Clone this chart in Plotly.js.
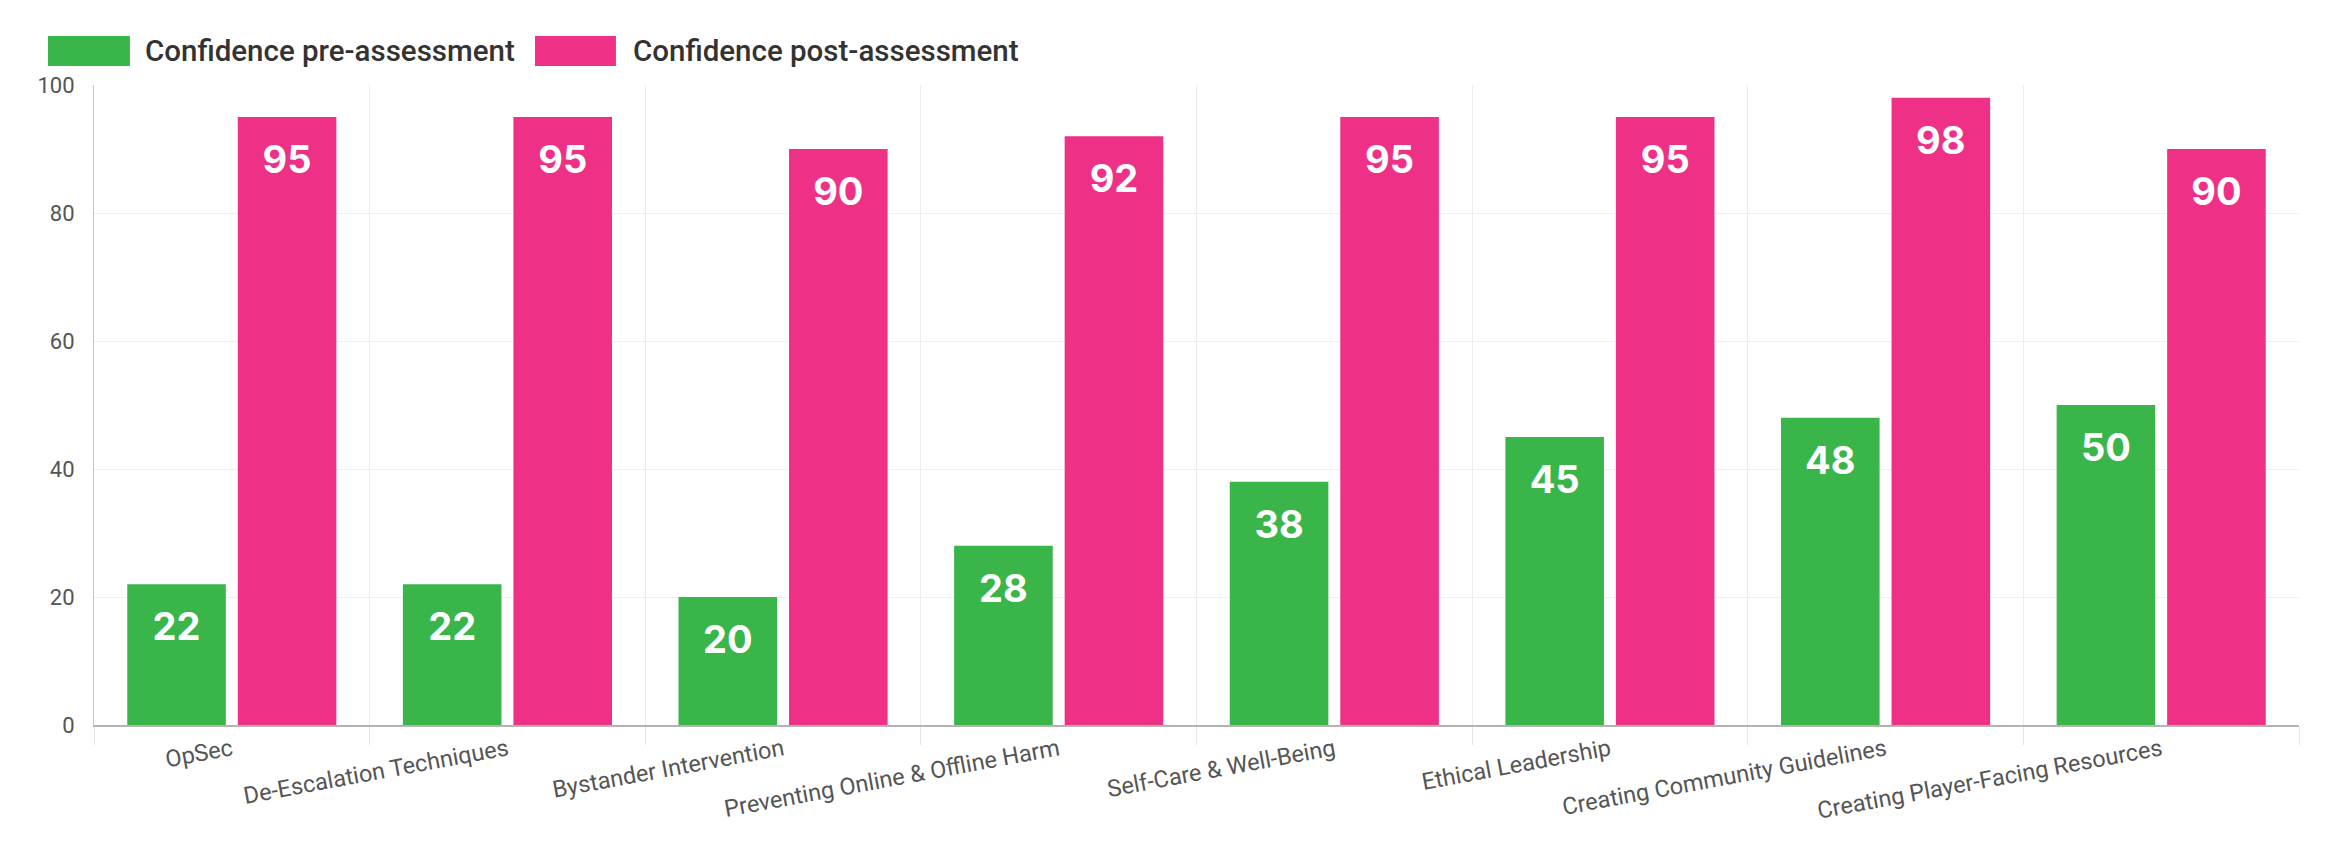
<!DOCTYPE html>
<html>
<head>
<meta charset="utf-8">
<script src="https://cdn.plot.ly/plotly-3.0.1.min.js"></script>
<style>
  html, body { margin: 0; padding: 0; background: #ffffff; }
  #chart { width: 2344px; height: 866px; }
</style>
</head>
<body>
<div id="chart"></div>
<script>
// values
const topics = [
    'OpSec',
    'De-Escalation Techniques',
    'Bystander Intervention',
    'Preventing Online & Offline Harm',
    'Self-Care & Well-Being',
    'Ethical Leadership',
    'Creating Community Guidelines',
    'Creating Player-Facing Resources'
];
const preAssessment = [22, 22, 20, 28, 38, 45, 48, 50];
const postAssessment = [95, 95, 90, 92, 95, 95, 98, 90];
const seriesNames = ['Confidence pre-assessment', 'Confidence post-assessment'];
const yTicks = [0, 20, 40, 60, 80, 100];

const GREEN = '#3AB54A';
const PINK = '#EE3187';
const labelFont = { family: 'Inter, "Open Sans", sans-serif', size: 38, color: '#ffffff', weight: 700 };
const axisFont = { family: 'Roboto, sans-serif', size: 22, color: '#555555' };
const catFont = { family: 'Roboto, sans-serif', size: 23.5, color: '#555555' };

function barTrace(values, name, color, group) {
    return {
        type: 'bar',
        x: topics,
        y: values,
        name: name,
        offsetgroup: group,
        marker: { color: color, line: { width: 0 } },
        hoverinfo: 'x+y+name',
        showlegend: false
    };
}

// value labels sit just under each bar top; the invisible marker gives the gap
function labelTrace(values, group) {
    return {
        type: 'scatter',
        mode: 'markers+text',
        x: topics,
        y: values,
        offsetgroup: group,
        text: values.map(String),
        textposition: 'bottom center',
        textfont: labelFont,
        marker: { size: 42, opacity: 0 },
        cliponaxis: false,
        hoverinfo: 'skip',
        showlegend: false
    };
}

const data = [
    barTrace(preAssessment, seriesNames[0], GREEN, 'pre'),
    barTrace(postAssessment, seriesNames[1], PINK, 'post'),
    labelTrace(preAssessment, 'pre'),
    labelTrace(postAssessment, 'post')
];

// hand-drawn legend with large swatches, like the original
const legendFont = { family: 'Roboto, sans-serif', size: 29.5, color: '#333333', weight: 500 };
const swatches = [
    { x0: -0.0209, x1: 0.0163, color: GREEN },
    { x0: 0.2000, x1: 0.2367, color: PINK }
];
const shapes = swatches.map(s => ({
    type: 'rect', xref: 'paper', yref: 'paper',
    x0: s.x0, x1: s.x1, y0: 1.0297, y1: 1.0766,
    fillcolor: s.color, line: { width: 0 }
}));
const annotations = [
    { text: seriesNames[0], x: 0.0222 },
    { text: seriesNames[1], x: 0.2435 }
].map(a => ({
    text: a.text, x: a.x, y: 1.0531, xref: 'paper', yref: 'paper',
    xanchor: 'left', yanchor: 'middle', showarrow: false, font: legendFont
}));

const layout = {
    width: 2344,
    height: 866,
    paper_bgcolor: '#ffffff',
    plot_bgcolor: '#ffffff',
    margin: { l: 94, r: 45, t: 85, b: 141, pad: 0 },
    barmode: 'group',
    bargap: 0.198,
    bargroupgap: 0.108,
    scattermode: 'group',
    scattergap: 0.198,
    showlegend: false,
    shapes: shapes,
    annotations: annotations,
    xaxis: {
        type: 'category',
        tickson: 'boundaries',
        showgrid: true,
        gridcolor: '#ececec',
        gridwidth: 1,
        ticks: 'outside',
        ticklen: 18,
        tickcolor: '#e4e4e4',
        tickangle: -10.5,
        tickfont: catFont,
        showline: true,
        linecolor: '#b3b3b3',
        linewidth: 2,
        zeroline: false,
        fixedrange: true
    },
    yaxis: {
        range: [0, 100],
        tickvals: yTicks,
        ticktext: yTicks.map(String),
        showgrid: true,
        gridcolor: '#efefef',
        gridwidth: 1,
        ticks: '',
        ticklabelstandoff: 14,
        tickfont: axisFont,
        showline: true,
        linecolor: '#c4c4c4',
        linewidth: 1,
        zeroline: false,
        fixedrange: true
    }
};

Plotly.newPlot('chart', data, layout, { displayModeBar: false, staticPlot: true });
</script>
</body>
</html>
